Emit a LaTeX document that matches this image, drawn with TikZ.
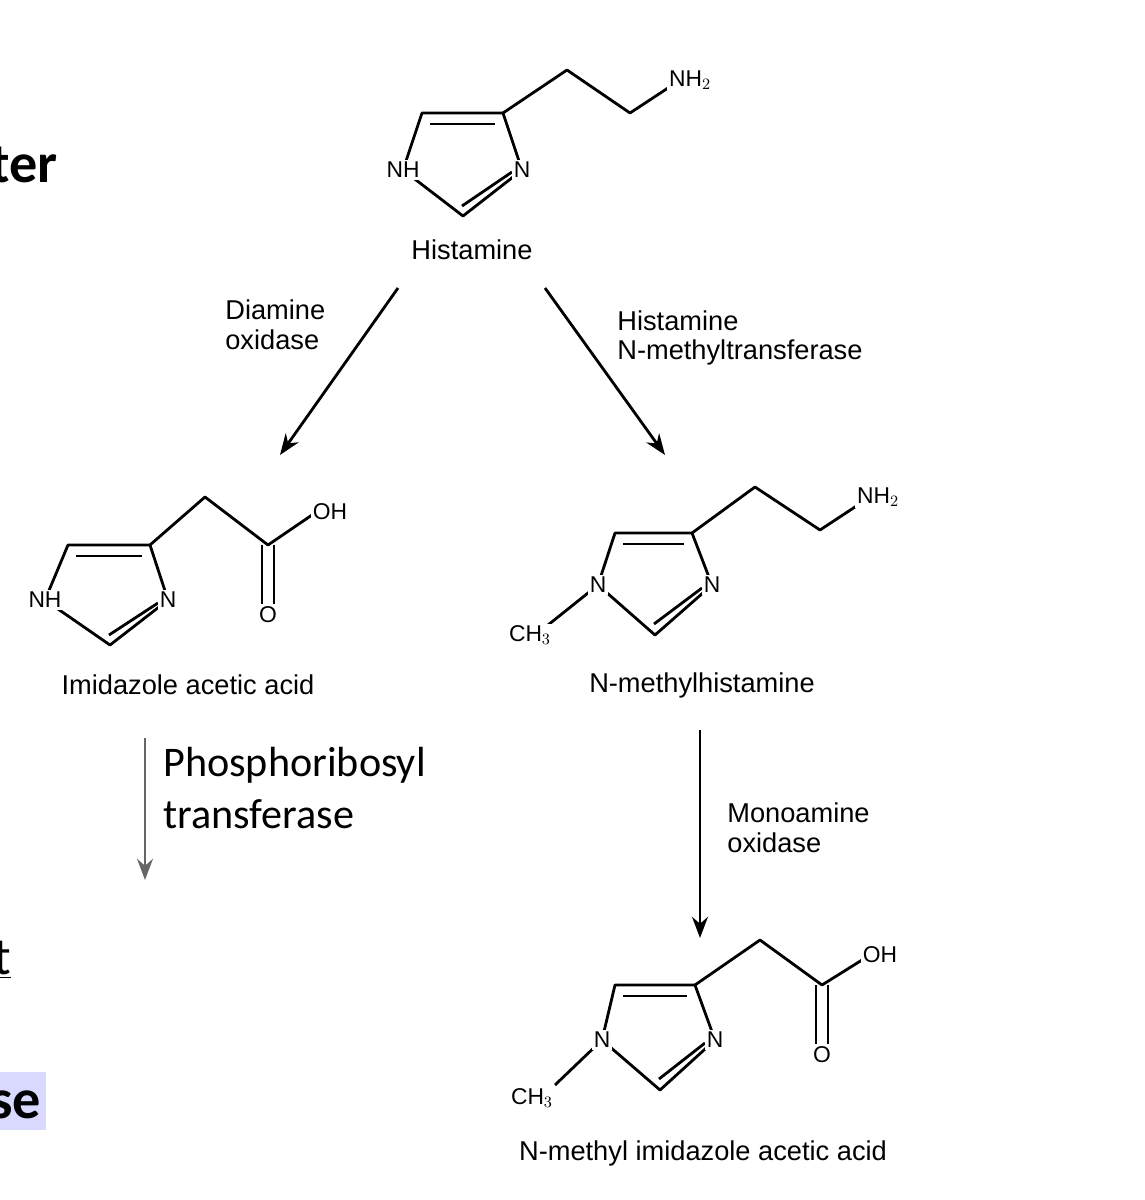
\documentclass[tikz,border=0pt]{standalone}
\usepackage{fontspec}
\usetikzlibrary{arrows.meta}
\setmainfont{Liberation Sans}
\newfontfamily\calfont{Carlito}
\begin{document}
\begin{tikzpicture}[x=0.02cm,y=-0.02cm,
 bond/.style={line width=1.6pt,line join=round},
 atom/.style={font=\fontsize{13}{13}\selectfont,inner sep=1pt,fill=white},
 lbl/.style={font=\fontsize{15.5}{17}\selectfont,align=left,inner sep=0pt},
 arr/.style={line width=1.6pt,-{Stealth[length=12pt,width=9pt]}}]
\useasboundingbox (0,0) rectangle (1144,1200);
% Histamine
\draw[bond] (403,170)--(422,113)--(503,113)--(522,170)--(463,216)--cycle;
\draw[bond] (430,124)--(495,124);
\draw[bond] (512,172)--(462,206);
\draw[bond] (503,113)--(567,70)--(630,113)--(668,88);
\node[atom] (h1) at (403,170) {NH};
\node[atom] (h2) at (522,170) {N};
\node[atom] (h3) at (690,80) {NH$_2$};
\node[lbl] (hl) at (472,250) {Histamine};
% Imidazole acetic acid
\draw[bond] (45,600)--(68,545)--(150,545)--(168,600)--(110,645)--cycle;
\draw[bond] (76,556)--(142,556);
\draw[bond] (158,603)--(109,635);
\draw[bond] (150,545)--(205,497)--(268,545)--(312,515);
\draw[bond] (262,545)--(262,604);\draw[bond] (274,545)--(274,604);
\node[atom] at (45,600) {NH};
\node[atom] at (168,600) {N};
\node[atom] at (330,512) {OH};
\node[atom] at (268,615) {O};
\node[lbl] (il) at (188,685) {Imidazole acetic acid};
% N-methylhistamine
\draw[bond] (598,585)--(615,533)--(692,533)--(712,585)--(655,635)--cycle;
\draw[bond] (623,544)--(684,544);
\draw[bond] (702,588)--(654,624);
\draw[bond] (692,533)--(755,487)--(820,530)--(858,505);
\draw[bond] (598,585)--(548,625);
\node[atom] at (598,585) {N};
\node[atom] at (712,585) {N};
\node[atom] at (878,497) {NH$_2$};
\node[atom] at (530,635) {CH$_3$};
\node[lbl] (ml) at (702,685) {N-methylhistamine};
% N-methyl imidazole acetic acid
\draw[bond] (602,1040)--(615,985)--(695,985)--(715,1040)--(660,1090)--cycle;
\draw[bond] (623,996)--(687,996);
\draw[bond] (705,1043)--(659,1079);
\draw[bond] (695,985)--(760,940)--(822,985)--(862,960);
\draw[bond] (816,985)--(816,1044);\draw[bond] (828,985)--(828,1044);
\draw[bond] (602,1040)--(555,1085);
\node[atom] at (602,1040) {N};
\node[atom] at (715,1040) {N};
\node[atom] at (880,955) {OH};
\node[atom] at (822,1055) {O};
\node[atom] at (532,1098) {CH$_3$};
\node[lbl] (nl) at (703,1153) {N-methyl imidazole acetic acid};
% arrows
\coordinate (a1s) at (398,288); \coordinate (a1e) at (280,455);
\coordinate (a2s) at (545,288); \coordinate (a2e) at (665,455);
\coordinate (a3s) at (700,730); \coordinate (a3e) at (700,938);
\coordinate (a4s) at (145,738); \coordinate (a4e) at (145,880);
\draw[arr] (a1s)--(a1e);
\draw[arr] (a2s)--(a2e);
\draw[arr] (a3s)--(a3e);
\draw[arr,draw=gray!80!black,fill=gray!80!black] (a4s)--(a4e);
\node[lbl,anchor=west] at (225,325) {Diamine\\oxidase};
\node[lbl,anchor=west] at (617,338) {Histamine\\N-methyltransferase};
\node[lbl,anchor=west] at (727,828) {Monoamine\\oxidase};
\node[anchor=west,align=left,inner sep=0pt,font=\calfont\fontsize{24}{30}\selectfont] at (163,788) {Phosphoribosyl\\transferase};
% left partial text
\node[anchor=west,inner sep=0pt,font=\calfont\bfseries\fontsize{32}{32}\selectfont] at (-10,165) {ter};
\node[anchor=west,inner sep=0pt,font=\calfont\fontsize{30}{30}\selectfont] at (-7,960) {\underline{t}};
\fill[blue!15] (0,1072) rectangle (46,1130);
\node[anchor=west,inner sep=0pt,font=\calfont\bfseries\fontsize{32}{32}\selectfont] at (-10,1105) {se};
\end{tikzpicture}
\end{document}
